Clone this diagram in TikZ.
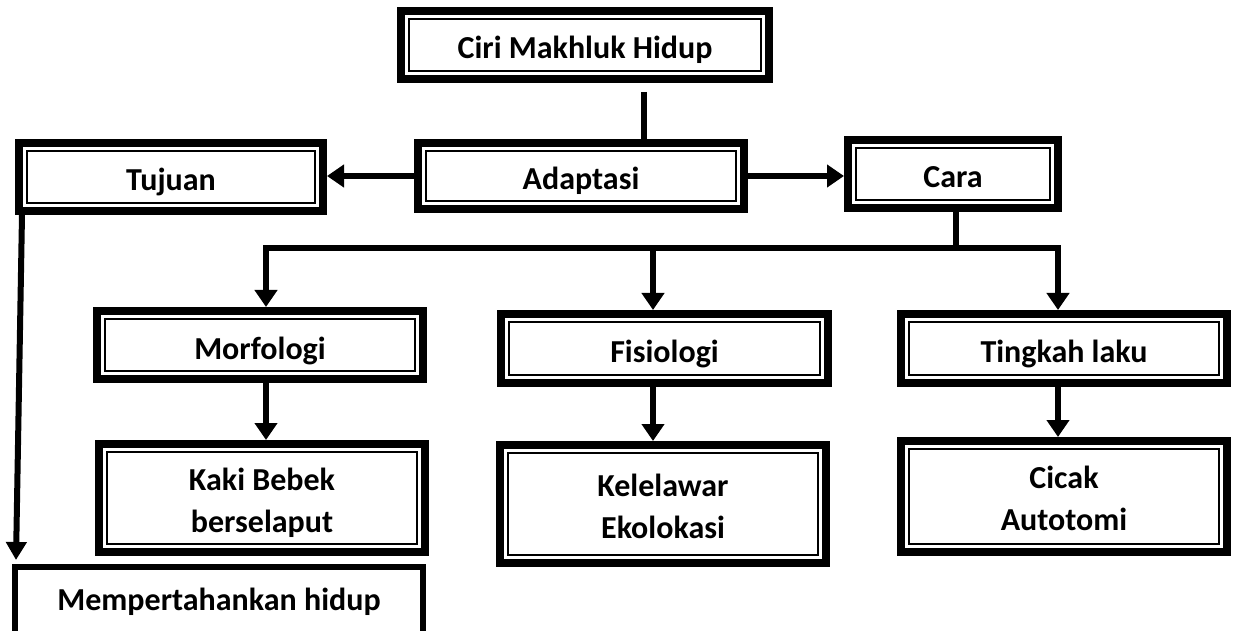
\documentclass[tikz,border=0pt]{standalone}
\usepackage{fontspec}
\setmainfont{Carlito}
\usepackage{tikz}
\usetikzlibrary{shapes, arrows.meta}
\tikzstyle{block} = [draw, line width=8pt, rectangle, inner sep=0pt, minimum height=68pt, minimum width=326pt, align=center, text height=28pt, text depth=0pt, font=\bfseries\fontsize{32}{42}\selectfont]
\tikzstyle{twoline} = [text height=68pt, text depth=0pt]
\tikzstyle{line} = [line width=6.5pt]
\tikzstyle{arrow} = [line width=6.5pt, -{Triangle[width=22pt, length=17pt]}]

\begin{document}
\begin{tikzpicture}[x=1pt, y=-1pt]
  \useasboundingbox (0, 0) rectangle (1235, 631);

  \node[block, minimum width=368pt] at (585, 45) (ciri) {Ciri Makhluk Hidup};
  \node[block, minimum height=66pt] at (581, 176) (adaptasi) {Adaptasi};
  \node[block, minimum width=304pt] at (171, 177) (tujuan) {Tujuan};
  \node[block, minimum width=210pt] at (953, 174) (cara) {Cara};

  \node[block] at (260, 345) (morfo) {Morfologi};
  \node[block, minimum width=327pt, minimum height=69pt] at (664.5, 348.5) (fisio) {Fisiologi};
  \node[block, minimum height=69pt] at (1064, 348.5) (tingkah) {Tingkah laku};

  \node[block, twoline, minimum height=108pt] at (262, 498) (kaki) {Kaki Bebek\\berselaput};
  \node[block, twoline, minimum height=118pt] at (663, 504) (kelelawar) {Kelelawar\\Ekolokasi};
  \node[block, twoline, minimum height=111pt] at (1064, 496.5) (cicak) {Cicak\\Autotomi};

  \node[block, line width=6pt, minimum width=408pt, minimum height=78pt, text height=8pt] at (219, 606) (hidup) {Mempertahankan hidup};

  % inner thin frame
  \foreach \n in {ciri, adaptasi, tujuan, cara, morfo, fisio, tingkah, kaki, kelelawar, cicak}
    \draw[line width=2pt] ([shift={(12pt,-12pt)}]\n.north west) rectangle ([shift={(-12pt,12pt)}]\n.south east);

  \coordinate (busl) at (266, 248);
  \coordinate (busm) at (653, 248);
  \coordinate (busr) at (1058, 248);

  \draw[line] ([xshift=59pt, yshift=-9pt]ciri.south) -- ([xshift=59pt]ciri.south |- adaptasi.north);
  \draw[arrow] (adaptasi.west) -- (adaptasi.west -| tujuan.east);
  \draw[arrow] (adaptasi.east) -- (adaptasi.east -| cara.west);

  \draw[line] ([xshift=3pt]cara.south) -- ([xshift=3pt]cara.south |- busl);
  \draw[arrow] ([xshift=3pt]cara.south |- busl) -- (busl) -- (busl |- morfo.north);
  \draw[arrow] ([xshift=3pt]cara.south |- busr) -- (busr) -- (busr |- tingkah.north);
  \draw[arrow] (busm) -- (busm |- fisio.north);

  \draw[arrow] (busl |- morfo.south) -- (busl |- kaki.north);
  \draw[arrow] (busm |- fisio.south) -- (busm |- kelelawar.north);
  \draw[arrow] (busr |- tingkah.south) -- (busr |- cicak.north);

  \draw[line width=6pt, -{Triangle[width=20pt, length=18pt]}] ([xshift=7pt]tujuan.south west) -- ([xshift=4pt, yshift=4pt]hidup.north west);
\end{tikzpicture}
\end{document}
